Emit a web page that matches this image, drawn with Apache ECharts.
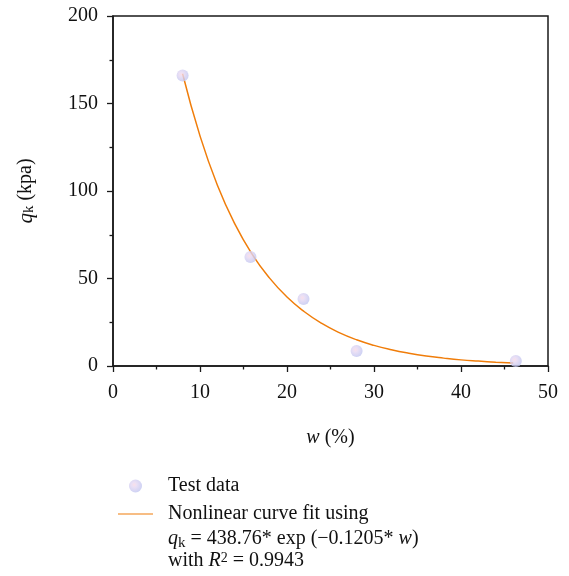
<!DOCTYPE html>
<html><head><meta charset="utf-8">
<script src="https://cdn.jsdelivr.net/npm/echarts@6/dist/echarts.min.js"></script>
<style>html,body{margin:0;padding:0;background:#fff}#c{width:569px;height:576px}</style>
</head><body><div id="c"></div>
<script>
// Test data (w %, q_k kPa)
const testW = [8, 15.8, 21.9, 28, 46.3];
const testQ = [166, 62.3, 38.3, 8.6, 2.9];
// Fitted curve, sampled from the drawn orange line
const fitW = [8, 10, 12, 14, 16, 18, 20, 22, 24, 26, 28, 30, 32, 34, 36, 38, 40, 42, 44, 46];
const fitQ = [167, 131.5, 103.3, 81.2, 63.8, 50.2, 39.4, 31.0, 24.3, 19.1, 15.0, 11.8, 9.3, 7.3, 5.7, 4.5, 3.5, 2.8, 2.2, 1.7];
const xTicks = [0, 10, 20, 30, 40, 50];
const yTicks = [0, 50, 100, 150, 200];

const FONT = '"Liberation Serif", "DejaVu Serif", serif';
const AX = '#1a1a1a';
const FS = 20;
const chart = echarts.init(document.getElementById('c'));
const axisCommon = {
  axisLine: {show: true, lineStyle: {color: AX, width: 1.5}},
  axisTick: {show: true, inside: false, length: 6, lineStyle: {color: AX, width: 1.3}},
  minorTick: {show: true, splitNumber: 2, length: 3.5, lineStyle: {color: AX, width: 1.3}},
  splitLine: {show: false},
  axisLabel: {color: '#111', fontFamily: FONT, fontSize: FS}
};
chart.setOption({
  animation: false,
  grid: {left: 113, right: 21, top: 16, bottom: 210, show: true, borderColor: AX, borderWidth: 1.5, backgroundColor: 'transparent'},
  xAxis: Object.assign({}, axisCommon, {
    type: 'value', min: xTicks[0], max: xTicks[xTicks.length - 1], interval: 10,
    axisLabel: Object.assign({}, axisCommon.axisLabel, {margin: 17}),
    name: '{i|w} (%)', nameLocation: 'middle', nameGap: 62,
    nameTextStyle: {color: '#111', fontFamily: FONT, fontSize: FS, rich: {i: {fontStyle: 'italic', fontFamily: FONT, fontSize: FS, color: '#111'}}}
  }),
  yAxis: Object.assign({}, axisCommon, {
    type: 'value', min: yTicks[0], max: yTicks[yTicks.length - 1], interval: 50,
    axisLabel: Object.assign({}, axisCommon.axisLabel, {margin: 15}),
    name: '{i|q}{s|k} (kpa)', nameLocation: 'middle', nameGap: 76, nameRotate: 90,
    nameTextStyle: {color: '#111', fontFamily: FONT, fontSize: FS, rich: {
      i: {fontStyle: 'italic', fontFamily: FONT, fontSize: 21, color: '#111'},
      s: {fontFamily: FONT, fontSize: 15, color: '#111', verticalAlign: 'bottom', padding: [7, 0, 0, 0]}
    }}
  }),
  legend: {
    orient: 'vertical', left: 118, top: 476, padding: 0, itemGap: 8, itemWidth: 35, itemHeight: 13,
    textStyle: {fontFamily: FONT, fontSize: FS, color: '#111', padding: [0, 0, 0, 10]},
    data: [
      {name: 'Test data', icon: 'circle'},
      {name: 'Nonlinear curve fit using', icon: 'path://M0,0 L35,0 L35,1 L0,1 Z'}
    ]
  },
  graphic: [
    {type: 'text', left: 168, top: 529, style: {
      text: '{i|q}{s|k} = 438.76* exp (−0.1205* {i|w})',
      font: FS + 'px ' + FONT, fill: '#111',
      rich: {i: {fontStyle: 'italic', fontFamily: FONT, fontSize: FS, fill: '#111'},
             s: {fontFamily: FONT, fontSize: 15, fill: '#111', padding: [9, 0, 0, 0]}}
    }},
    {type: 'text', left: 168, top: 551, style: {
      text: 'with {i|R}{p|2} = 0.9943',
      font: FS + 'px ' + FONT, fill: '#111',
      rich: {i: {fontStyle: 'italic', fontFamily: FONT, fontSize: FS, fill: '#111'},
             p: {fontFamily: FONT, fontSize: 14, fill: '#111', padding: [0, 0, 6, 0]}}
    }}
  ],
  series: [
    {
      name: 'Nonlinear curve fit using', type: 'line', smooth: true, showSymbol: false, z: 2,
      data: fitW.map((w, i) => [w, fitQ[i]]),
      lineStyle: {color: '#f07d0a', width: 1.5}, itemStyle: {color: '#f07d0a'}
    },
    {
      name: 'Test data', type: 'scatter', symbolSize: 12, z: 3,
      data: testW.map((w, i) => [w, testQ[i]]),
      itemStyle: {color: {type: 'radial', x: 0.4, y: 0.4, r: 0.6, colorStops: [
        {offset: 0, color: '#f8d8e4'}, {offset: 0.3, color: '#e6d8f2'}, {offset: 1, color: '#c3c7f1'}]}}
    }
  ]
});
</script></body></html>
